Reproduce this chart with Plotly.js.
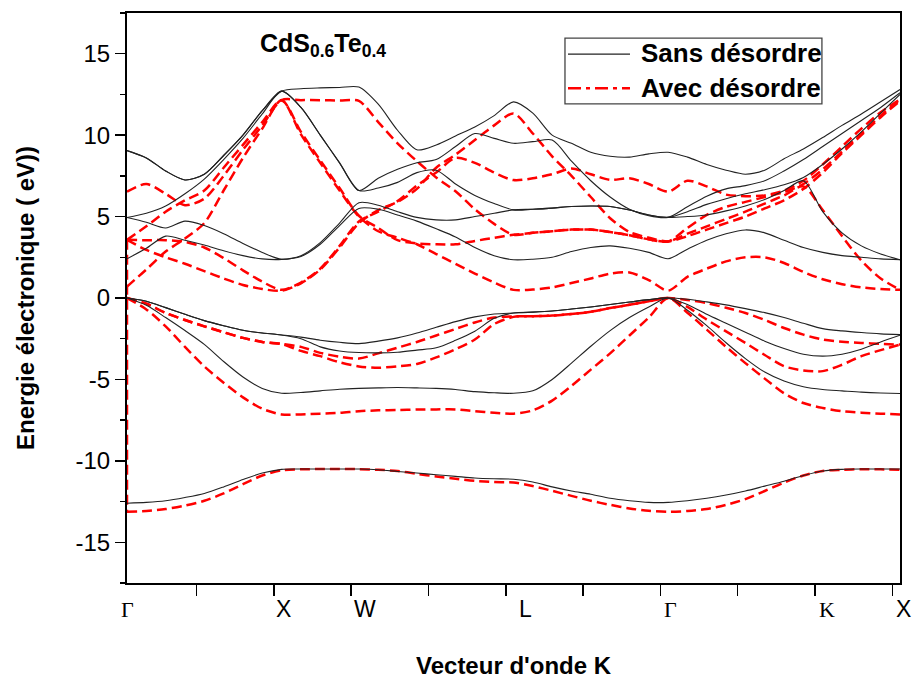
<!DOCTYPE html>
<html>
<head>
<meta charset="utf-8">
<script src="https://cdn.plot.ly/plotly-3.0.1.min.js"></script>
<style>html,body{margin:0;padding:0;background:#fff;}</style>
</head>
<body>
<div id="chart" style="width:913px;height:683px;"></div>
<script>
// k-path coordinate (Γ=0, X=2, W=3, L=5, Γ=7, K=9, X=10)
const kGrid = [0,0.25,0.5,0.75,1,1.25,1.5,1.75,2,2.25,2.5,2.75,3,3.25,3.5,3.75,4,4.25,4.5,4.75,5,
  5.25,5.5,5.75,6,6.25,6.5,6.75,7,7.25,7.5,7.75,8,8.25,8.5,8.75,9,9.25,9.5,9.75,10];

const symPoints = [0, 2, 3, 5, 7, 9, 10];
const symLabels = ['Γ', 'X', 'W', 'L', 'Γ', 'K', 'X'];

// ---- Sans désordre (black) ----
const blackVal1 = [0,-0.2,-0.59,-1.0,-1.39,-1.7,-1.98,-2.15,-2.27, -2.4,-2.59,-2.72,-2.8,
  -2.65,-2.45,-2.15,-1.8,-1.45,-1.16,-0.98,-0.92, -0.87,-0.8,-0.68,-0.55,-0.4,-0.25,-0.1,0,
  -0.08,-0.24,-0.42,-0.65,-0.9,-1.2,-1.55,-1.88,-2.02,-2.12,-2.2,-2.25];
const blackVal2 = [0,-0.2,-0.59,-1.0,-1.39,-1.7,-1.98,-2.15,-2.27, -2.5,-3.0,-3.25,-3.35,
  -3.37,-3.33,-3.2,-3.06,-2.6,-2.04,-1.25,-0.92, -0.87,-0.8,-0.68,-0.55,-0.4,-0.25,-0.1,0,
  -0.4,-1.0,-1.55,-2.1,-2.65,-3.1,-3.45,-3.57,-3.45,-3.15,-2.7,-2.29];
const blackVal3 = [0,-0.45,-1.2,-2.0,-2.85,-3.9,-4.85,-5.55,-5.85, -5.8,-5.7,-5.6,-5.55,
  -5.52,-5.5,-5.52,-5.55,-5.62,-5.75,-5.82,-5.85, -5.7,-5.0,-4.0,-2.96,-2.0,-1.2,-0.55,0,
  -0.75,-1.7,-2.75,-3.72,-4.55,-5.1,-5.45,-5.62,-5.7,-5.78,-5.83,-5.86];
const blackVal4 = [-12.6,-12.55,-12.45,-12.25,-12.0,-11.6,-11.15,-10.75,-10.52, -10.5,-10.5,-10.5,-10.5,
  -10.55,-10.65,-10.75,-10.85,-10.95,-11.05,-11.1,-11.13, -11.3,-11.6,-11.85,-12.05,-12.3,-12.45,-12.55,-12.55,
  -12.45,-12.3,-12.1,-11.85,-11.55,-11.25,-10.9,-10.62,-10.52,-10.5,-10.5,-10.5];
const blackCond1 = [2.41,3.05,3.8,3.55,3.25,2.9,2.6,2.4,2.37, 2.55,3.3,4.45,5.5,
  5.45,5.1,4.72,4.25,3.75,3.1,2.6,2.35, 2.38,2.5,2.85,3.1,3.2,3.05,2.8,2.41,
  3.0,3.55,3.95,4.18,4.0,3.55,3.1,2.8,2.6,2.5,2.4,2.35];
const blackCond2 = [4.94,4.65,4.3,4.72,4.45,3.95,3.35,2.8,2.38, 2.6,3.4,4.6,5.85,
  5.7,5.3,4.95,4.8,4.8,5.0,5.2,5.41, 5.45,5.52,5.62,5.65,5.62,5.4,5.1,4.95,
  5.0,5.1,5.35,5.65,6.05,6.6,7.2,5.3,4.0,3.2,2.7,2.35];
const blackCond3 = [4.94,5.2,5.65,6.4,7.3,8.5,9.8,11.3,12.7, 11.7,10.0,8.3,6.6,
  6.75,7.1,7.7,7.85,7.0,6.3,5.8,5.41, 5.45,5.52,5.62,5.65,5.62,5.4,5.1,4.95,
  5.3,5.75,6.1,6.4,6.65,6.95,7.4,8.2,9.15,10.2,11.35,12.5];
const blackCond4 = [9.05,8.6,7.8,7.25,7.6,8.75,10.0,11.5,12.7, 11.7,10.0,8.3,6.6,
  7.35,7.9,8.3,8.5,9.3,10.1,9.8,9.5, 9.6,9.7,8.4,7.2,6.2,5.45,5.05,4.95,
  5.6,6.25,6.7,6.9,7.2,7.8,8.5,9.3,10.1,10.9,11.7,12.6];
const blackCond5 = [9.05,8.6,7.8,7.25,7.6,8.75,10.0,11.5,12.7, 12.85,12.9,12.93,12.95,
  11.9,10.3,9.1,9.4,9.95,10.5,11.2,12.04, 11.35,10.0,9.5,8.95,8.7,8.65,8.85,8.95,
  8.65,8.2,7.85,7.6,7.85,8.55,9.15,9.85,10.6,11.3,12.05,12.8];

// ---- Avec désordre (red) ----
const redVal1 = [0,-0.35,-0.92,-1.35,-1.74,-2.1,-2.45,-2.7,-2.82, -3.0,-3.37,-3.6,-3.72,
  -3.4,-3.05,-2.7,-2.3,-1.9,-1.5,-1.2,-1.13, -1.12,-1.08,-0.98,-0.85,-0.62,-0.42,-0.2,0,
  -0.12,-0.31,-0.6,-0.92,-1.35,-1.84,-2.25,-2.55,-2.68,-2.76,-2.82,-2.86];
const redVal2 = [0,-0.35,-0.92,-1.35,-1.74,-2.1,-2.45,-2.7,-2.82, -3.25,-3.57,-3.95,-4.2,
  -4.28,-4.2,-4.05,-3.65,-3.15,-2.55,-1.6,-1.16, -1.12,-1.08,-0.98,-0.85,-0.62,-0.42,-0.2,0,
  -0.55,-1.33,-2.05,-2.76,-3.5,-4.19,-4.45,-4.49,-4.1,-3.57,-3.2,-2.86];
const redVal3 = [0,-0.7,-1.74,-3.0,-4.2,-5.2,-6.1,-6.8,-7.15, -7.15,-7.1,-7.05,-6.95,
  -6.9,-6.88,-6.85,-6.84,-6.84,-6.95,-7.05,-7.1, -6.9,-6.3,-5.4,-4.4,-3.4,-2.3,-1.2,0,
  -0.9,-1.94,-3.0,-4.0,-4.95,-5.85,-6.45,-6.75,-6.95,-7.04,-7.1,-7.15];
const redVal4 = [-13.13,-13.08,-12.96,-12.75,-12.45,-12.0,-11.43,-10.9,-10.58, -10.52,-10.5,-10.5,-10.51,
  -10.55,-10.62,-10.8,-10.96,-11.1,-11.23,-11.3,-11.33, -11.55,-11.84,-12.15,-12.45,-12.7,-12.92,-13.07,-13.13,
  -13.08,-12.96,-12.7,-12.35,-11.85,-11.33,-10.9,-10.62,-10.55,-10.51,-10.52,-10.55];
const redCond1 = [3.57,2.95,2.5,2.1,1.65,1.2,0.8,0.55,0.45, 0.9,1.75,3.1,4.6,
  5.4,5.9,6.7,8.0,8.8,9.7,10.6,11.33, 10.1,8.7,7.5,6.2,4.9,4.05,3.7,3.47,
  3.8,4.2,4.6,5.0,5.5,6.0,6.7,7.7,8.9,10.0,11.1,12.1];
const redCond2 = [3.57,3.55,3.55,3.45,3.1,2.45,1.7,1.0,0.5, 0.95,1.8,3.2,4.7,
  5.3,5.95,6.9,7.7,8.6,8.3,7.7,7.24, 7.35,7.6,7.95,7.6,7.25,7.35,7.0,6.53,
  7.2,6.85,6.35,6.25,6.3,6.6,7.2,8.2,9.3,10.4,11.4,12.2];
const redCond3 = [0.7,1.75,2.85,3.65,4.6,6.6,8.6,10.4,12.15, 10.05,8.3,6.6,5.0,
  4.1,3.7,3.3,2.7,2.1,1.5,0.95,0.5, 0.52,0.65,0.92,1.2,1.5,1.57,1.1,0.45,
  1.3,1.8,2.25,2.5,2.5,2.15,1.6,1.15,0.85,0.65,0.55,0.5];
const redCond4 = [3.57,4.4,5.3,6.0,6.6,8.0,9.4,10.8,12.15, 10.2,8.45,6.75,5.05,
  4.3,3.55,3.35,3.3,3.3,3.5,3.7,3.88, 4.0,4.1,4.2,4.2,4.05,3.85,3.6,3.47,
  3.95,4.4,4.85,5.3,5.8,6.3,6.85,5.4,3.8,2.3,1.2,0.5];
const redCond5 = [6.53,7.0,6.4,5.7,6.1,7.5,9.1,10.6,12.15, 12.15,12.15,12.12,12.1,
  10.8,9.5,8.4,7.4,6.55,5.45,4.55,3.88, 4.0,4.1,4.2,4.2,4.05,3.85,3.6,3.47,
  4.3,5.1,5.6,5.9,6.2,6.5,7.0,7.9,9.0,10.1,11.2,12.15];
// vertical red segment drawn at the first Γ point
const redGammaK = [0, 0];
const redGammaE = [3.57, -13.13];

const blackBands = [blackVal4, blackVal3, blackVal2, blackVal1, blackCond1, blackCond2, blackCond3, blackCond4, blackCond5];
const redBands = [redVal4, redVal3, redVal2, redVal1, redCond1, redCond2, redCond3, redCond4, redCond5];

const traces = [];
redBands.forEach(b => traces.push({
  x: kGrid, y: b, type: 'scatter', mode: 'lines', hoverinfo: 'skip',
  line: {color: '#ff0000', width: 2.5, dash: '10px,5px', shape: 'spline', smoothing: 0.8}
}));
traces.push({x: redGammaK, y: redGammaE, type: 'scatter', mode: 'lines', hoverinfo: 'skip',
  line: {color: '#ff0000', width: 2.5, dash: '10px,5px'}});
blackBands.forEach(b => traces.push({
  x: kGrid, y: b, type: 'scatter', mode: 'lines', hoverinfo: 'skip',
  line: {color: '#222222', width: 1.1, shape: 'spline', smoothing: 0.8}
}));

const tickPos = [1,2,3,4,5,6,7,8,9,10].map(v => v - 0.1);
const yTicks = [-15,-10,-5,0,5,10,15];
const labelShift = [0, 2, 6, 12, 2, 4, 3];

const sans = 'Liberation Sans, Arial, sans-serif';
const serif = 'Liberation Serif, Times New Roman, serif';

const annotations = symPoints.map((p, i) => ({
  x: p, y: -0.046, xref: 'x', yref: 'paper', xshift: labelShift[i],
  text: symLabels[i], showarrow: false, xanchor: 'center', yanchor: 'middle',
  font: {family: (symLabels[i] === 'Γ' || symLabels[i] === 'K') ? serif : sans,
         size: (symLabels[i] === 'Γ' || symLabels[i] === 'K') ? 22 : 23, color: 'black'}
}));
annotations.push({
  x: 0.5, y: -0.144, xref: 'paper', yref: 'paper', showarrow: false,
  xanchor: 'center', yanchor: 'middle',
  text: "<b>Vecteur d'onde K</b>", font: {family: sans, size: 24, color: 'black'}
});
annotations.push({
  x: -0.132, y: 0.5, xref: 'paper', yref: 'paper', showarrow: false, textangle: -90,
  xanchor: 'center', yanchor: 'middle',
  text: '<b>Energie électronique ( eV))</b>', font: {family: sans, size: 24, color: 'black'}
});
annotations.push({
  x: 0.169, y: 0.944, xref: 'paper', yref: 'paper', showarrow: false, xanchor: 'left', yanchor: 'middle',
  text: '<b>CdS<sub>0.6</sub>Te<sub>0.4</sub></b>', font: {family: sans, size: 25, color: 'black'}
});
annotations.push({
  x: 0.662, y: 0.929, xref: 'paper', yref: 'paper', showarrow: false, xanchor: 'left', yanchor: 'middle',
  text: '<b>Sans désordre</b>', font: {family: sans, size: 26, color: 'black'}
});
annotations.push({
  x: 0.662, y: 0.869, xref: 'paper', yref: 'paper', showarrow: false, xanchor: 'left', yanchor: 'middle',
  text: '<b>Avec désordre</b>', font: {family: sans, size: 26, color: 'black'}
});

const shapes = [
  {type: 'rect', xref: 'paper', yref: 'paper', x0: 0.5666, x1: 0.899, y0: 0.8404, y1: 0.956,
   line: {color: '#444', width: 1.3}, fillcolor: 'rgba(255,255,255,0)'},
  {type: 'line', xref: 'paper', yref: 'paper', x0: 0.5705, x1: 0.6507, y0: 0.928, y1: 0.928,
   line: {color: '#222', width: 1.2}},
  {type: 'line', xref: 'paper', yref: 'paper', x0: 0.5705, x1: 0.6507, y0: 0.868, y1: 0.868,
   line: {color: '#ff0000', width: 2.6, dash: '13px,5px,4px,5px'}}
];

const layout = {
  width: 913, height: 683,
  margin: {l: 127, r: 13, t: 13, b: 100},
  paper_bgcolor: 'white', plot_bgcolor: 'white',
  showlegend: false,
  xaxis: {
    range: [0, 10], showgrid: false, zeroline: false,
    showline: true, mirror: true, linewidth: 2, linecolor: 'black', layer: 'below traces',
    tickmode: 'array', tickvals: tickPos, showticklabels: false,
    ticks: 'outside', ticklen: 11, tickwidth: 1.5, tickcolor: 'black'
  },
  yaxis: {
    range: [-17.5, 17.5], showgrid: false, zeroline: false,
    showline: true, mirror: true, linewidth: 2, linecolor: 'black', layer: 'below traces',
    tickmode: 'array', tickvals: yTicks, ticktext: yTicks.map(v => String(v)),
    ticks: 'outside', ticklen: 10, tickwidth: 1.5, tickcolor: 'black',
    tickfont: {family: sans, size: 24, color: 'black'},
    minor: {dtick: 2.5, tick0: 0, ticks: 'outside', ticklen: 5, tickwidth: 1.5, tickcolor: 'black', showgrid: false}
  },
  annotations: annotations,
  shapes: shapes
};

Plotly.newPlot('chart', traces, layout, {staticPlot: true, displayModeBar: false});
</script>
</body>
</html>
